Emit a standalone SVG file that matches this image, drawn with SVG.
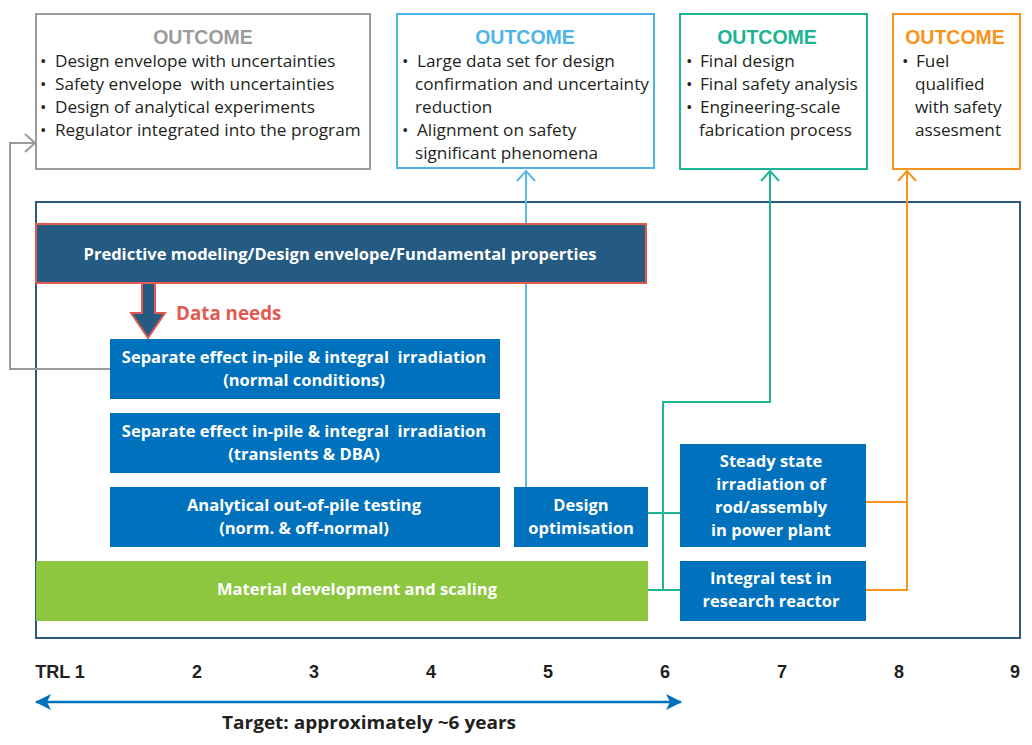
<svg xmlns="http://www.w3.org/2000/svg" width="1032" height="745" viewBox="0 0 1032 745">
<style>
text{font-family:"Open Sans","Liberation Sans",Arial,sans-serif;white-space:pre}
.oc{font-size:19.5px;font-weight:bold;text-anchor:middle;font-family:"Liberation Sans",Arial,sans-serif}
.bt{font-size:17.2px;fill:#231f20}
.wt{font-size:16.5px;font-weight:bold;fill:#fff;text-anchor:middle}
.bx{fill:#0071bc}
.ln{fill:none;stroke-width:2}
.trl{font-size:18px;font-weight:bold;fill:#231f20;text-anchor:middle;font-family:"Liberation Sans",Arial,sans-serif}
</style>
<defs>
<marker id="chev" viewBox="0 0 12 20" refX="11" refY="10" markerWidth="12" markerHeight="20" markerUnits="userSpaceOnUse" orient="auto">
<path d="M1,1 L11,10 L1,19" fill="none" stroke="context-stroke" stroke-width="2"/>
</marker>
<marker id="tri" viewBox="0 0 16 16" refX="15" refY="8" markerWidth="16" markerHeight="16" markerUnits="userSpaceOnUse" orient="auto-start-reverse">
<path d="M0,0 L16,8 L0,16 L4,8 Z" fill="#0071bc"/>
</marker>
</defs>

<g id="outcome1">
<rect x="36" y="14" width="334" height="155" fill="#fff" stroke="#9b9b9b" stroke-width="2"/>
<text class="oc" x="203" y="44" fill="#9b9b9b">OUTCOME</text>
<text class="bt"><tspan x="40" y="67">•</tspan><tspan x="55" y="67">Design envelope with uncertainties</tspan><tspan x="40" y="90">•</tspan><tspan x="55" y="90">Safety envelope  with uncertainties</tspan><tspan x="40" y="113">•</tspan><tspan x="55" y="113">Design of analytical experiments</tspan><tspan x="40" y="136">•</tspan><tspan x="55" y="136">Regulator integrated into the program</tspan></text>
</g>
<g id="outcome2">
<rect x="397" y="14" width="257" height="154" fill="#fff" stroke="#4fb4e6" stroke-width="2"/>
<text class="oc" x="525" y="44" fill="#4fb4e6">OUTCOME</text>
<text class="bt"><tspan x="402" y="67">•</tspan><tspan x="417" y="67">Large data set for design</tspan><tspan x="415" y="90">confirmation and uncertainty</tspan><tspan x="415" y="113">reduction</tspan><tspan x="402" y="136">•</tspan><tspan x="417" y="136">Alignment on safety</tspan><tspan x="415" y="159">significant phenomena</tspan></text>
</g>
<g id="outcome3">
<rect x="680" y="14" width="187" height="155" fill="#fff" stroke="#1db494" stroke-width="2"/>
<text class="oc" x="767" y="44" fill="#1db494">OUTCOME</text>
<text class="bt"><tspan x="686" y="67">•</tspan><tspan x="700" y="67">Final design</tspan><tspan x="686" y="90">•</tspan><tspan x="700" y="90">Final safety analysis</tspan><tspan x="686" y="113">•</tspan><tspan x="700" y="113">Engineering-scale</tspan><tspan x="699" y="136">fabrication process</tspan></text>
</g>
<g id="outcome4">
<rect x="893" y="14" width="127" height="155" fill="#fff" stroke="#f7941d" stroke-width="2"/>
<text class="oc" x="955" y="44" fill="#f7941d">OUTCOME</text>
<text class="bt"><tspan x="902" y="67">•</tspan><tspan x="916" y="67">Fuel</tspan><tspan x="915" y="90">qualified</tspan><tspan x="915" y="113">with safety</tspan><tspan x="915" y="136">assesment</tspan></text>
</g>

<g id="frame">
<rect x="36" y="202" width="984" height="436" fill="none" stroke="#2a5a80" stroke-width="2"/>
</g>

<g id="connectors">
<polyline class="ln" stroke="#9b9b9b" points="110,369 10,369 10,143 35,143" marker-end="url(#chev)"/>
<polyline class="ln" stroke="#5bb8e8" points="526,487 526,171" marker-end="url(#chev)"/>
<polyline class="ln" stroke="#1db494" points="648,513 680,513"/>
<polyline class="ln" stroke="#1db494" points="648,590 680,590"/>
<polyline class="ln" stroke="#1db494" points="663,590 663,402 770,402 770,171" marker-end="url(#chev)"/>
<polyline class="ln" stroke="#f7941d" points="866,502 907,502 907,171" marker-end="url(#chev)"/>
<polyline class="ln" stroke="#f7941d" points="866,590 907,590 907,500"/>
</g>

<g id="predictive">
<rect x="36" y="224" width="610" height="59" fill="#255a82" stroke="#e35a50" stroke-width="2"/>
<text class="wt" x="340" y="260">Predictive modeling/Design envelope/Fundamental properties</text>
</g>
<g id="dataneeds">
<path d="M142,283 L155,283 L155,313 L165,313 L148,338 L131,313 L142,313 Z" fill="#255a82" stroke="#e35a50" stroke-width="2" stroke-linejoin="miter"/>
<text x="176" y="320" font-size="18.8" font-weight="bold" fill="#e35a50">Data needs</text>
</g>
<g id="sep1">
<rect class="bx" x="110" y="339" width="390" height="60"/>
<text class="wt"><tspan x="304" y="363">Separate effect in-pile &amp; integral  irradiation</tspan><tspan x="304" y="386">(normal conditions)</tspan></text>
</g>
<g id="sep2">
<rect class="bx" x="110" y="413" width="390" height="60"/>
<text class="wt"><tspan x="304" y="437">Separate effect in-pile &amp; integral  irradiation</tspan><tspan x="304" y="460">(transients &amp; DBA)</tspan></text>
</g>
<g id="analytical">
<rect class="bx" x="110" y="487" width="390" height="60"/>
<text class="wt"><tspan x="304" y="511">Analytical out-of-pile testing</tspan><tspan x="304" y="534">(norm. &amp; off-normal)</tspan></text>
</g>
<g id="designopt">
<rect class="bx" x="514" y="487" width="134" height="60"/>
<text class="wt"><tspan x="581" y="511">Design</tspan><tspan x="581" y="534">optimisation</tspan></text>
</g>
<g id="steady">
<rect class="bx" x="680" y="444" width="186" height="103"/>
<text class="wt"><tspan x="771" y="467">Steady state</tspan><tspan x="771" y="490">irradiation of</tspan><tspan x="771" y="513">rod/assembly</tspan><tspan x="771" y="536">in power plant</tspan></text>
</g>
<g id="material">
<rect x="36" y="561" width="612" height="60" fill="#8dc63f"/>
<text class="wt" x="357" y="595">Material development and scaling</text>
</g>
<g id="integral">
<rect class="bx" x="680" y="561" width="186" height="60"/>
<text class="wt"><tspan x="771" y="584">Integral test in</tspan><tspan x="771" y="607">research reactor</tspan></text>
</g>

<g id="axis">
<text class="trl" x="60" y="678">TRL 1</text>
<text class="trl" x="197" y="678">2</text>
<text class="trl" x="314" y="678">3</text>
<text class="trl" x="431" y="678">4</text>
<text class="trl" x="548" y="678">5</text>
<text class="trl" x="665" y="678">6</text>
<text class="trl" x="782" y="678">7</text>
<text class="trl" x="899" y="678">8</text>
<text class="trl" x="1015" y="678">9</text>
<line x1="36" y1="702" x2="681" y2="702" stroke="#0071bc" stroke-width="2.5" marker-start="url(#tri)" marker-end="url(#tri)"/>
<text x="222" y="729" font-size="18" font-weight="bold" fill="#231f20" textLength="294" lengthAdjust="spacingAndGlyphs" font-family="Liberation Sans, Arial, sans-serif">Target: approximately ~6 years</text>
</g>
</svg>
